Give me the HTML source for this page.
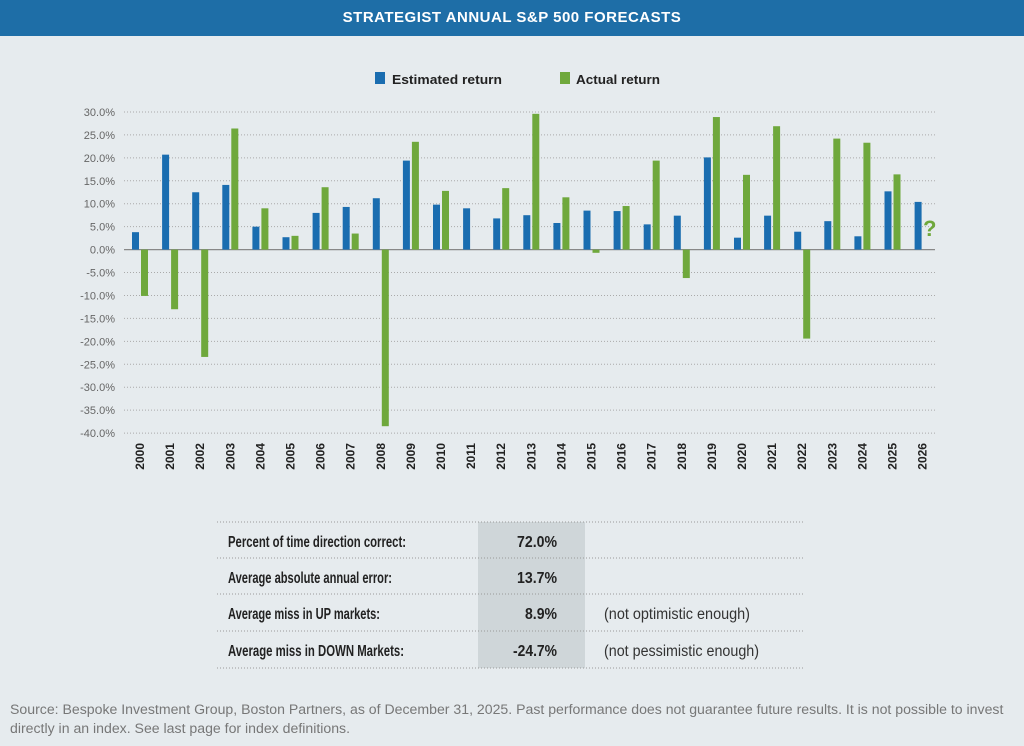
<!DOCTYPE html>
<html><head><style>
body{margin:0;width:1024px;height:746px;background:#e6ebee;font-family:"Liberation Sans",sans-serif;overflow:hidden;position:relative}
.hdr{position:absolute;left:0;top:0;width:1024px;height:36px;background:#1e6ea7;color:#fff;font-weight:bold;font-size:15px;text-align:center;line-height:36px;letter-spacing:0.5px}
.foot{position:absolute;left:10px;top:700px;font-size:14.1px;color:#777;line-height:19px;width:1014px;white-space:nowrap}
</style></head><body>
<div class="hdr">STRATEGIST ANNUAL S&amp;P 500 FORECASTS</div>
<svg width="1024" height="746" style="position:absolute;left:0;top:0" font-family="Liberation Sans, sans-serif">
<rect x="375" y="72" width="10" height="12" fill="#1a6db0"/>
<text x="392" y="84" font-size="13" font-weight="bold" fill="#222" textLength="110" lengthAdjust="spacingAndGlyphs">Estimated return</text>
<rect x="560" y="72" width="10" height="12" fill="#6fa83c"/>
<text x="576" y="84" font-size="13" font-weight="bold" fill="#222" textLength="84" lengthAdjust="spacingAndGlyphs">Actual return</text>
<g id="grid"></g><g id="bars"></g><g id="lab"></g>
<rect x="478" y="522" width="107" height="146" fill="#cfd6d9"/>
<g stroke="#999" stroke-dasharray="1,2" stroke-width="1">
<line x1="217" y1="522" x2="805" y2="522"/><line x1="217" y1="558" x2="805" y2="558"/><line x1="217" y1="594" x2="805" y2="594"/><line x1="217" y1="631" x2="805" y2="631"/><line x1="217" y1="668" x2="805" y2="668"/>
</g>
<g font-size="15.5" font-weight="bold" fill="#222">
<text x="228" y="547" textLength="178" lengthAdjust="spacingAndGlyphs">Percent of time direction correct:</text>
<text x="228" y="583" textLength="164" lengthAdjust="spacingAndGlyphs">Average absolute annual error:</text>
<text x="228" y="619" textLength="152" lengthAdjust="spacingAndGlyphs">Average miss in UP markets:</text>
<text x="228" y="656" textLength="176" lengthAdjust="spacingAndGlyphs">Average miss in DOWN Markets:</text>
<g text-anchor="end"><text x="557" y="547" textLength="40" lengthAdjust="spacingAndGlyphs">72.0%</text><text x="557" y="583" textLength="40" lengthAdjust="spacingAndGlyphs">13.7%</text><text x="557" y="619" textLength="32" lengthAdjust="spacingAndGlyphs">8.9%</text><text x="557" y="656" textLength="44" lengthAdjust="spacingAndGlyphs">-24.7%</text></g>
</g>
<g font-size="15.5" fill="#333"><text x="604" y="619" textLength="146" lengthAdjust="spacingAndGlyphs">(not optimistic enough)</text><text x="604" y="656" textLength="155" lengthAdjust="spacingAndGlyphs">(not pessimistic enough)</text></g>
<text x="923" y="236" font-size="22" font-weight="bold" fill="#6fa83c">?</text>
</svg>
<div class="foot">Source: Bespoke Investment Group, Boston Partners, as of December 31, 2025. Past performance does not guarantee future results. It is not possible to invest<br>directly in an index. See last page for index definitions.</div>
<script>
var ns="http://www.w3.org/2000/svg";
function el(p,t,a,txt){var e=document.createElementNS(ns,t);for(var k in a)e.setAttribute(k,a[k]);if(txt!=null)e.textContent=txt;document.getElementById(p).appendChild(e);}
function Y(v){return 249.6-v*4.587;}
for(var v=30;v>=-40;v-=5){var y=Y(v);
 if(v!=0)el("grid","line",{x1:124,y1:y,x2:935,y2:y,stroke:"#aaa","stroke-dasharray":"1,2"});
 el("grid","text",{x:115,y:y+4,"font-size":"11","text-anchor":"end",fill:"#666"},v.toFixed(1)+"%");}
el("grid","line",{x1:124,y1:Y(0),x2:935,y2:Y(0),stroke:"#888","stroke-width":"1.3"});
var e=[3.8,20.7,12.5,14.1,5.0,2.7,8.0,9.3,11.2,19.4,9.8,9.0,6.8,7.5,5.8,8.5,8.4,5.5,7.4,20.1,2.6,7.4,3.9,6.2,2.9,12.7,10.4];
var a=[-10.1,-13.0,-23.4,26.4,9.0,3.0,13.6,3.5,-38.5,23.5,12.8,0,13.4,29.6,11.4,-0.7,9.5,19.4,-6.2,28.9,16.3,26.9,-19.4,24.2,23.3,16.4,null];
for(var i=0;i<27;i++){var x=132+30.1*i;
 el("bars","rect",{x:x,y:Math.min(Y(0),Y(e[i])),width:7,height:Math.abs(e[i])*4.587,fill:"#1a6db0"});
 if(a[i]!=null)el("bars","rect",{x:x+9,y:Math.min(Y(0),Y(a[i])),width:7,height:Math.abs(a[i])*4.587,fill:"#6fa83c"});
 var lx=x+12,ly=443;
 el("lab","text",{x:lx,y:ly,"font-size":"12","font-weight":"bold",fill:"#222","text-anchor":"end",transform:"rotate(-90 "+lx+" "+ly+")"},String(2000+i));}
</script>
</body></html>
